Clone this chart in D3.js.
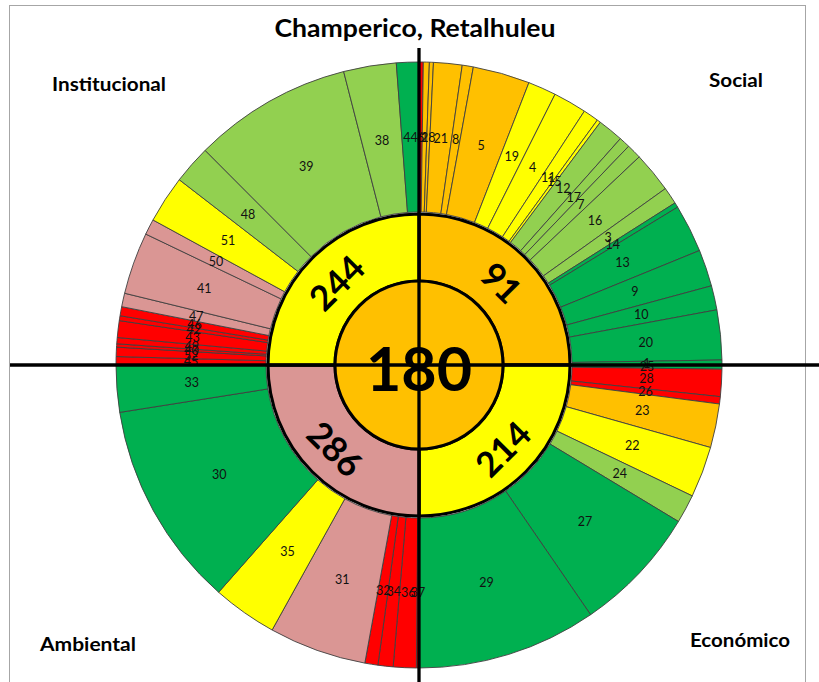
<!DOCTYPE html>
<html>
<head>
<meta charset="utf-8">
<script src="https://cdn.jsdelivr.net/npm/d3@7"></script>
<style>
  body { margin: 0; background: #fff; }
  text { font-family: Lato, "Open Sans", sans-serif; }
</style>
</head>
<body>
<div id="chart"></div>
<script>
// overall score and the four dimensions (clockwise from 12 o'clock)
var overallScore = 180;
var overallLevel = 2;
var dimensionNames = ["Social", "Económico", "Ambiental", "Institucional"];
var dimensionScores = [91, 214, 286, 244];
var dimensionLevels = [2, 3, 0, 3];

// indicators of each dimension, clockwise; share = angular width
// level: 0 sin dato, 1 rojo, 2 naranja, 3 amarillo, 4 verde claro, 5 verde
var socialIds = [6, 2, 18, 21, 8, 5, 19, 4, 11, 15, 12, 17, 7, 16, 3, 14, 13, 9, 10, 20, 1];
var socialShares = [0.82, 1.15, 0.77, 5.47, 2.13, 10.93, 5.41, 6.40, 2.98, 0.70, 4.90, 2.12, 2.84, 7.78, 3.26, 0.94, 9.20, 7.05, 4.65, 9.55, 0.95];
var socialLevels = [1, 2, 2, 2, 2, 2, 3, 3, 3, 3, 4, 4, 4, 4, 4, 5, 5, 5, 5, 5, 5];

var economicIds = [25, 28, 26, 23, 22, 24, 27, 29];
var economicShares = [0.8, 5.2, 1.4, 8.4, 9.8, 5.5, 24.4, 34.5];
var economicLevels = [5, 1, 1, 2, 3, 4, 5, 5];

var environmentIds = [37, 36, 34, 32, 31, 35, 30, 33];
var environmentShares = [0.5, 4.4, 2.9, 2.5, 18.7, 12.4, 39.6, 9.0];
var environmentLevels = [1, 1, 1, 1, 0, 3, 5, 5];

var institutionalIds = [45, 52, 40, 49, 43, 42, 46, 47, 41, 50, 51, 48, 39, 38, 44];
var institutionalShares = [1.6, 1.79, 0.63, 1.19, 3.22, 0.93, 1.74, 2.6, 11.9, 3.0, 9.1, 7.4, 30.5, 10.1, 4.3];
var institutionalLevels = [1, 1, 1, 1, 1, 1, 1, 0, 0, 0, 3, 4, 4, 4, 5];

var W = 819, H = 682;
var cx = 419, cy = 365;
var rCenter = 84, rRing = 151, rOuterIn = 153, rOuter = 303;

var levelColor = d3.scaleOrdinal()
  .domain([0, 1, 2, 3, 4, 5])
  .range(["#DA9694", "#FF0000", "#FFC000", "#FFFF00", "#92D050", "#00B050"]);

var groups = [
  {ids: socialIds, shares: socialShares, levels: socialLevels},
  {ids: economicIds, shares: economicShares, levels: economicLevels},
  {ids: environmentIds, shares: environmentShares, levels: environmentLevels},
  {ids: institutionalIds, shares: institutionalShares, levels: institutionalLevels}
];
groups.forEach(function(g, i) {
  g.name = dimensionNames[i];
  g.score = dimensionScores[i];
  g.level = dimensionLevels[i];
});

var svg = d3.select("#chart").append("svg")
  .attr("width", W)
  .attr("height", H);

// frame
svg.append("rect")
  .attr("x", 9.5).attr("y", 5.5)
  .attr("width", 796).attr("height", 700)
  .attr("fill", "none")
  .attr("stroke", "#a6a6a6");

var g = svg.append("g").attr("transform", "translate(" + cx + "," + cy + ")");

var innerPie = d3.pie().sort(null).value(function(d) { return d3.sum(d.shares); });
var quadrants = innerPie(groups);

var outerArc = d3.arc().innerRadius(rOuterIn).outerRadius(rOuter);
var ringArc = d3.arc().innerRadius(rCenter).outerRadius(rRing);

// outer ring: one slice per indicator
var slices = [];
quadrants.forEach(function(q) {
  var items = q.data.ids.map(function(id, i) {
    return {id: id, share: q.data.shares[i], level: q.data.levels[i]};
  });
  var pie = d3.pie().sort(null)
    .startAngle(q.startAngle).endAngle(q.endAngle)
    .value(function(d) { return d.share; });
  slices = slices.concat(pie(items));
});

g.selectAll("path.outer")
  .data(slices)
  .enter().append("path")
  .attr("class", "outer")
  .attr("d", outerArc)
  .attr("fill", function(d) { return levelColor(d.data.level); })
  .attr("stroke", "#404040")
  .attr("stroke-width", 0.9);

g.selectAll("text.outer")
  .data(slices)
  .enter().append("text")
  .attr("class", "outer")
  .attr("transform", function(d) { return "translate(" + outerArc.centroid(d) + ")"; })
  .attr("text-anchor", "middle")
  .attr("dominant-baseline", "central")
  .attr("font-size", 12.5)
  .attr("fill", "#111")
  .text(function(d) { return d.data.id; });

// inner ring: dimensions
g.selectAll("path.ring")
  .data(quadrants)
  .enter().append("path")
  .attr("class", "ring")
  .attr("d", ringArc)
  .attr("fill", function(d) { return levelColor(d.data.level); })
  .attr("stroke", "#000")
  .attr("stroke-width", 3);

// axes crossing the chart
svg.append("line")
  .attr("x1", cx).attr("x2", cx).attr("y1", 48).attr("y2", H)
  .attr("stroke", "#000").attr("stroke-width", 3.3);
svg.append("line")
  .attr("x1", 10).attr("x2", W).attr("y1", cy).attr("y2", cy)
  .attr("stroke", "#000").attr("stroke-width", 3.3);

// center
g.append("circle")
  .attr("r", rCenter)
  .attr("fill", levelColor(overallLevel))
  .attr("stroke", "#000")
  .attr("stroke-width", 3);

g.append("text")
  .attr("y", 2)
  .attr("text-anchor", "middle")
  .attr("dominant-baseline", "central")
  .attr("font-size", 61)
  .attr("font-weight", 700)
  .text(overallScore);

g.selectAll("text.ring")
  .data(quadrants)
  .enter().append("text")
  .attr("class", "ring")
  .attr("transform", function(d) {
    var c = ringArc.centroid(d);
    var rot = (d.startAngle + d.endAngle) / 2 * 180 / Math.PI;
    if (rot > 90 && rot < 270) rot -= 180;
    else if (rot >= 270) rot -= 360;
    return "translate(" + c + ") rotate(" + rot + ")";
  })
  .attr("text-anchor", "middle")
  .attr("dominant-baseline", "central")
  .attr("font-size", 35)
  .attr("font-weight", 700)
  .text(function(d) { return d.data.score; });

// title and dimension names
svg.append("text")
  .attr("x", 415).attr("y", 27)
  .attr("text-anchor", "middle")
  .attr("dominant-baseline", "central")
  .attr("font-size", 25)
  .attr("font-weight", 700)
  .attr("textLength", 281)
  .attr("lengthAdjust", "spacingAndGlyphs")
  .text("Champerico, Retalhuleu");

var cornerLabels = [
  {name: dimensionNames[3], x: 109, y: 83, w: 114},
  {name: dimensionNames[0], x: 736, y: 79, w: 54},
  {name: dimensionNames[2], x: 88, y: 643, w: 96},
  {name: dimensionNames[1], x: 740, y: 639, w: 100}
];
svg.selectAll("text.corner")
  .data(cornerLabels)
  .enter().append("text")
  .attr("class", "corner")
  .attr("x", function(d) { return d.x; })
  .attr("y", function(d) { return d.y; })
  .attr("text-anchor", "middle")
  .attr("dominant-baseline", "central")
  .attr("font-size", 19)
  .attr("font-weight", 700)
  .attr("textLength", function(d) { return d.w; })
  .attr("lengthAdjust", "spacingAndGlyphs")
  .text(function(d) { return d.name; });
</script>
</body>
</html>
